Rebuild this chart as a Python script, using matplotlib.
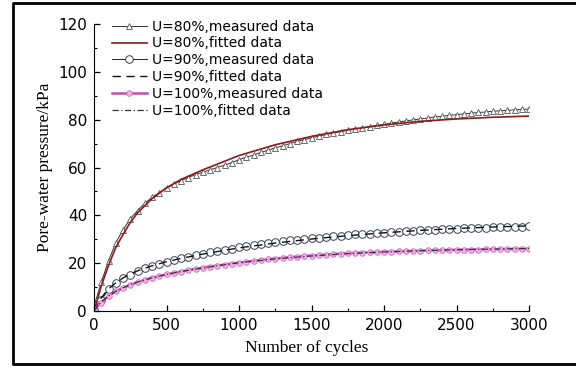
import numpy as np
import matplotlib
matplotlib.use('Agg')
import matplotlib.pyplot as plt
from matplotlib.lines import Line2D
from matplotlib.ticker import MultipleLocator

# measured data, one point every 50 cycles
cycles = np.arange(0, 3001, 50)
m80 = [2, 12, 21, 28.5, 34, 38.5, 42, 45, 47.5, 49.5,
       51.5, 53, 54.5, 55.8, 57, 58, 59, 60, 61, 62,
       63.3, 64.3, 65.2, 66.3, 67.2, 68.2, 69, 70, 70.9, 71.6,
       72.4, 73.1, 73.8, 74.4, 75, 75.5, 76.1, 76.6, 77.1, 77.6,
       78, 78.6, 79, 79.5, 79.9, 80.3, 80.7, 81.1, 81.4, 81.8,
       82.1, 82.4, 82.7, 83, 83.2, 83.5, 83.7, 83.9, 84.1, 84.3,
       84.4]
m90 = [0.5, 4.5, 9, 11.8, 13.8, 15.2, 16.6, 17.8, 18.8, 19.6,
       20.5, 21.2, 22, 22.6, 23.3, 24, 24.5, 25.1, 25.6, 26.1,
       26.6, 27, 27.5, 27.9, 28.4, 28.7, 29.2, 29.5, 29.8, 30.2,
       30.4, 30.7, 31, 31.2, 31.5, 31.8, 32, 32.2, 32.4, 32.6,
       32.8, 33, 33.2, 33.3, 33.5, 33.7, 33.8, 34, 34.1, 34.3,
       34.4, 34.5, 34.7, 34.8, 34.9, 35, 35.1, 35.2, 35.3, 35.3,
       35.4]
m100 = [0.5, 3.5, 6.3, 8.2, 9.6, 10.9, 12, 13, 13.8, 14.6,
        15.3, 15.9, 16.5, 17.1, 17.6, 18.1, 18.6, 19, 19.4, 19.8,
        20.2, 20.6, 20.9, 21.3, 21.6, 21.9, 22.2, 22.5, 22.7, 23,
        23.2, 23.4, 23.6, 23.8, 24, 24.1, 24.3, 24.4, 24.5, 24.6,
        24.7, 24.8, 24.9, 25, 25.1, 25.2, 25.3, 25.4, 25.4, 25.5,
        25.6, 25.6, 25.7, 25.7, 25.8, 25.8, 25.9, 25.9, 26, 26,
        26]

# fitted curves
fit_x = [0, 25, 50, 100, 150, 200, 250, 300, 400, 500, 600, 750, 1000,
         1250, 1500, 1750, 2000, 2250, 2500, 2750, 3000]
fit80 = [0, 5, 10.5, 19, 26.5, 32, 37, 41, 47, 51.5, 55, 59, 65,
         69.5, 73, 75.8, 77.8, 79.3, 80.3, 81, 81.5]
fit90 = [0, 3, 5.5, 9.2, 11.8, 13.8, 15.4, 16.8, 18.9, 20.6, 22, 23.8, 26.4,
         28.4, 30.1, 31.5, 32.7, 33.7, 34.5, 35.1, 35.6]
fit100 = [0, 2, 3.8, 6.3, 8.2, 9.7, 11, 12.1, 13.9, 15.3, 16.5, 18, 20.2,
          21.8, 23, 24, 24.7, 25.2, 25.6, 25.9, 26.1]

fig = plt.figure(figsize=(5.76, 3.67), dpi=100)
ax = fig.add_axes([94/576, 56/367, 435/576, 287/367])

ax.plot(cycles, m80, color='#333333', lw=0.7, marker='^', ms=4, mfc='white',
        mec='#555555', mew=0.6, label='U=80%,measured data')
ax.plot(fit_x, fit80, color='#8b1a1a', lw=1.2, label='U=80%,fitted data')
ax.plot(cycles, m90, color='#222222', lw=0.7, marker='o', ms=5.5, mfc='white',
        mec='#3a3f55', mew=0.7, label='U=90%,measured data')
ax.plot(fit_x, fit90, color='#111111', lw=1.0, ls=(0, (6, 4)), label='U=90%,fitted data')
ax.plot(cycles, m100, color='#c050a8', lw=1.8, marker='o', ms=4, mfc='#f0b0ea',
        mec='#d868c8', mew=0.6, label='U=100%,measured data')
ax.plot(fit_x, fit100, color='#333333', lw=0.9, ls=(0, (5, 2, 1, 2)), label='U=100%,fitted data')

ax.set_xlim(0, 3000)
ax.set_ylim(0, 120)
ax.xaxis.set_major_locator(MultipleLocator(500))
ax.xaxis.set_minor_locator(MultipleLocator(250))
ax.yaxis.set_major_locator(MultipleLocator(20))
ax.yaxis.set_minor_locator(MultipleLocator(10))
ax.tick_params(which='major', direction='in', length=4.5, width=0.9, labelsize=11, pad=5)
ax.tick_params(which='minor', direction='in', length=2.5, width=0.8)
ax.spines['top'].set_visible(False)
ax.spines['right'].set_visible(False)

ax.set_xlabel('Number of cycles', family='Liberation Serif', fontsize=12.5)
ax.set_ylabel('Pore-water pressure/kPa', family='Liberation Serif', fontsize=12.5)
ax.xaxis.set_label_coords(0.49, -0.1)
ax.yaxis.set_label_coords(-0.094, 0.5)

ax.legend(loc='upper left', bbox_to_anchor=(0.041, 1.015), frameon=False,
          fontsize=10, borderpad=0, borderaxespad=0, labelspacing=0.2,
          handlelength=2.5, handletextpad=0.4)

# outer frame: left, top and bottom edges
fx = [1.0, 13/576, 13/576, 1.0]
fy = [364/367, 364/367, 3/367, 3/367]
fig.lines.append(Line2D(fx, fy, transform=fig.transFigure, color='black', lw=2))

fig.savefig('out.png', dpi=100)
